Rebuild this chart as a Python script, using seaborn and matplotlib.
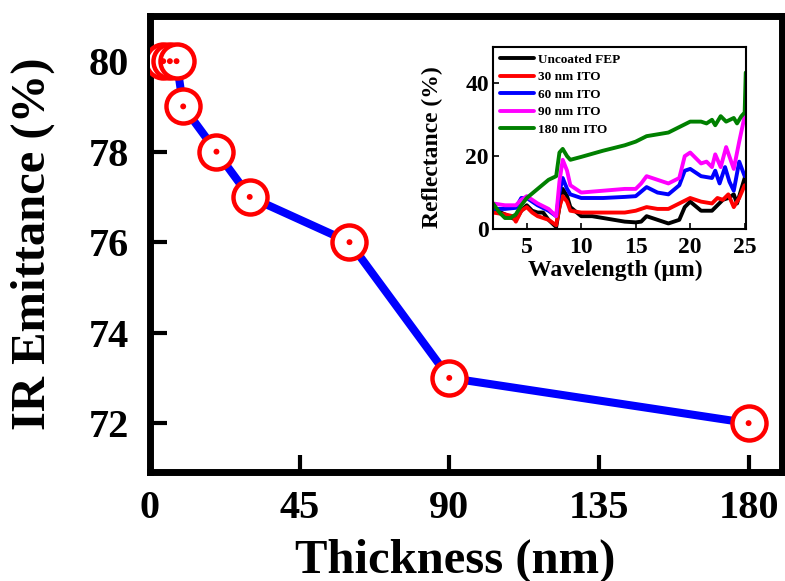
import matplotlib
matplotlib.use("Agg")
import matplotlib.pyplot as plt
import seaborn as sns
import pandas as pd

# ---- main data ----
thickness = [4, 6, 8, 10, 20, 30, 60, 90, 180]
emittance = [80, 80, 80, 79, 78, 77, 76, 73, 72]
x_ticks = [0, 45, 90, 135, 180]
y_ticks = [72, 74, 76, 78, 80]

# ---- inset data (reflectance spectra) ----
wl_green = [1.9, 2.5, 3.0, 3.5, 4.0, 4.5, 5.0, 6.0, 7.0, 7.7, 8.0, 8.3, 8.7, 9.0, 10, 12, 14, 15, 16, 17,
            18, 19, 20, 21, 21.5, 22, 22.3, 22.8, 23.3, 24, 24.3, 24.7, 25.0, 25.1]
r_green = [7, 4.5, 3, 3, 4, 6.5, 8.5, 11, 13.5, 14.5, 21, 22, 20, 19, 19.8, 21.5, 23, 24, 25.5, 26,
           26.5, 28, 29.5, 29.5, 29, 30, 28.5, 31, 29.5, 30.5, 29, 31, 32, 43]

wl_mag = [1.9, 3.0, 4.0, 4.5, 5.0, 6.0, 7.0, 7.7, 8.0, 8.3, 8.7, 9.0, 9.5, 10, 12, 14, 15, 15.5, 16, 17,
          18, 19, 19.5, 20, 21, 21.5, 22, 22.3, 22.8, 23.3, 24, 24.5, 25.0]
r_mag = [7, 6.5, 6.5, 8, 9, 7, 5.5, 3.5, 13, 19, 16, 12, 11, 10, 10.5, 11, 11, 12.5, 14.5, 13.5,
         12.5, 14, 20, 21, 18, 18.5, 17, 20.5, 17, 22.5, 16.5, 24, 31]

wl_blue = [1.9, 3.0, 4.0, 4.5, 5.0, 6.0, 7.0, 7.7, 8.0, 8.3, 8.7, 9.0, 10, 12, 14, 15, 16, 17, 18, 19,
           19.5, 20, 21, 22, 22.3, 22.7, 23.2, 23.6, 24, 24.5, 25.0]
r_blue = [5.5, 5.5, 5.8, 8.5, 8.5, 6.5, 5, 3.5, 10, 14, 11, 9.5, 8.5, 8.5, 8.8, 9, 11.5, 10, 9.5, 12,
          16, 16.5, 14.5, 14, 16, 12.5, 17, 13, 10.5, 18.5, 14.5]

wl_red = [1.9, 3.0, 3.7, 4.0, 4.5, 5.0, 5.5, 6.0, 7.0, 7.7, 8.0, 8.3, 8.7, 9.0, 10, 12, 14, 15, 16, 17,
          18, 19, 20, 21, 22, 22.5, 23, 23.5, 24, 24.5, 25.0]
r_red = [4.5, 4, 3.5, 2, 5, 6, 4.5, 3.5, 2.5, 1, 6, 9, 7.5, 5, 4.5, 4.5, 4.5, 5, 6, 5.5,
         5.5, 7, 8.5, 7.5, 7, 8.5, 8, 9.5, 6, 8.5, 12]

wl_black = [1.9, 3.0, 4.0, 4.5, 5.0, 5.5, 6.0, 6.5, 7.0, 7.7, 8.0, 8.3, 8.7, 9.0, 10, 11, 12, 13, 14, 15,
            15.5, 16, 17, 18, 19, 19.5, 20, 21, 22, 22.5, 23, 23.5, 24, 24.3, 25.0]
r_black = [5.5, 4, 2.5, 5, 6.5, 5, 4.5, 4.5, 2.5, 0.5, 6, 11, 9, 6, 3.5, 3.5, 3, 2.5, 2, 1.8,
           2, 3.5, 2.5, 1.5, 2.5, 6, 7.5, 5, 5, 6.5, 8, 8.5, 9.5, 7, 14]

series_names = ["Uncoated FEP", "30 nm ITO", "60 nm ITO", "90 nm ITO", "180 nm ITO"]
series_colors = ["black", "red", "blue", "magenta", "green"]
inset_xticks = [5, 10, 15, 20, 25]
inset_yticks = [0, 20, 40]

sns.set_style("ticks")
plt.rcParams["font.family"] = ["Liberation Serif", "DejaVu Serif"]
plt.rcParams["font.weight"] = "bold"
plt.rcParams["mathtext.default"] = "regular"
for k in ["text.color", "axes.labelcolor", "axes.edgecolor", "xtick.color", "ytick.color"]:
    plt.rcParams[k] = "black"

fig = plt.figure(figsize=(7.85, 5.81), dpi=100)
ax = fig.add_axes([0.191, 0.1876, 0.805, 0.785])

df_main = pd.DataFrame({"Thickness": thickness, "Emittance": emittance})
sns.lineplot(data=df_main, x="Thickness", y="Emittance", ax=ax, color="blue", linewidth=5.8,
             marker="o", markersize=24.5, markerfacecolor="white", markeredgecolor="red",
             markeredgewidth=3.2, zorder=3)
sns.scatterplot(data=df_main, x="Thickness", y="Emittance", ax=ax, color="red", s=18,
                edgecolor="none", zorder=4)

ax.set_xlim(0, 190)
ax.set_ylim(70.92, 81)
ax.set_xticks(x_ticks)
ax.set_yticks(y_ticks)
ax.tick_params(direction="in", length=12, width=3, labelsize=29)
ax.tick_params(axis="x", pad=13)
ax.tick_params(axis="y", pad=15)
for lab in ax.get_xticklabels() + ax.get_yticklabels():
    lab.set_fontweight("bold")
for s in ax.spines.values():
    s.set_linewidth(5)
ax.set_xlabel("Thickness (nm)", fontsize=35, fontweight="bold")
ax.set_ylabel("IR Emittance (%)", fontsize=35, fontweight="bold")
ax.xaxis.set_label_coords(0.483, -0.145)
ax.yaxis.set_label_coords(-0.150, 0.5)

# ---- inset ----
axi = fig.add_axes([0.628, 0.606, 0.322, 0.313])
spectra = [(wl_black, r_black), (wl_red, r_red), (wl_blue, r_blue), (wl_mag, r_mag), (wl_green, r_green)]
for (wl, r), name, col in zip(spectra, series_names, series_colors):
    d = pd.DataFrame({"wl": wl, "R": r})
    sns.lineplot(data=d, x="wl", y="R", ax=axi, color=col, linewidth=2.8, label=name)
axi.set_xlim(1.9, 25.1)
axi.set_ylim(0, 50)
axi.set_xticks(inset_xticks)
axi.set_yticks(inset_yticks)
axi.tick_params(direction="in", length=4, width=1.2, labelsize=17)
axi.tick_params(axis="x", pad=6)
axi.tick_params(axis="y", pad=3)
for lab in axi.get_xticklabels() + axi.get_yticklabels():
    lab.set_fontweight("bold")
for s in axi.spines.values():
    s.set_linewidth(1.5)
axi.set_xlabel("Wavelength (\u03bcm)", fontsize=17, fontweight="bold")
axi.set_ylabel("Reflectance (%)", fontsize=17, fontweight="bold")
axi.xaxis.set_label_coords(0.482, -0.17)
axi.yaxis.set_label_coords(-0.198, 0.45)
leg = axi.legend(loc="upper left", frameon=False, handlelength=2.6,
                 handletextpad=0.3, labelspacing=0.4, borderaxespad=0.1,
                 prop={"weight": "bold", "size": 9.5})

fig.savefig("out.png", dpi=100)
